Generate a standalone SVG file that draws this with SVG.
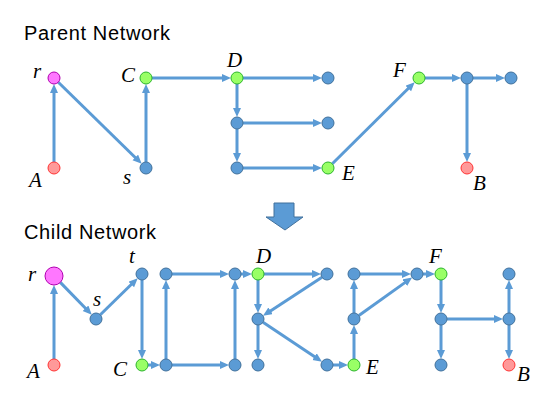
<svg xmlns="http://www.w3.org/2000/svg" width="554" height="407" viewBox="0 0 554 407">
<defs>
<marker id="ah" markerUnits="userSpaceOnUse" markerWidth="10" markerHeight="9" refX="1" refY="4" orient="auto">
<path d="M0,0 L9,4 L0,8 z" fill="#5b9bd5"/>
</marker>
<style>
.e{stroke:#5b9bd5;stroke-width:3;fill:none;marker-end:url(#ah)}
.b{fill:#5b9bd5;stroke:#41719c;stroke-width:1}
.g{fill:#99ff66;stroke:#2cb52c;stroke-width:1}
.rd{fill:#ff9999;stroke:#ff3333;stroke-width:1}
.m{fill:#ff77ff;stroke:#b000b0;stroke-width:1}
.t{font-family:"Liberation Sans",Arial,sans-serif;font-size:20px;fill:#000}
.l{font-family:"Liberation Serif","Times New Roman",serif;font-style:italic;font-size:21px;fill:#000}
</style>
</defs>
<rect width="554" height="407" fill="#fff"/>
<text class="t" x="24" y="40" textLength="146">Parent Network</text>
<text class="t" x="24" y="239" textLength="132">Child Network</text>
<path d="M274,203 H294 V217 H303 L285,230 L266,217 H274 Z" fill="#5b9bd5" stroke="#41719c" stroke-width="1"/>
<g id="edges">
<line class="e" x1="54" y1="162" x2="54" y2="92"/>
<line class="e" x1="58.3" y1="82.2" x2="136" y2="158.2"/>
<line class="e" x1="146" y1="162" x2="146" y2="92"/>
<line class="e" x1="152" y1="78" x2="223" y2="78"/>
<line class="e" x1="243" y1="78" x2="314" y2="78"/>
<line class="e" x1="237" y1="84" x2="237" y2="109"/>
<line class="e" x1="237" y1="129" x2="237" y2="154"/>
<line class="e" x1="243" y1="123" x2="314" y2="123"/>
<line class="e" x1="243" y1="168" x2="314" y2="168"/>
<line class="e" x1="332.3" y1="163.8" x2="409" y2="87.8"/>
<line class="e" x1="425" y1="78" x2="453" y2="78"/>
<line class="e" x1="473" y1="78" x2="497" y2="78"/>
<line class="e" x1="467" y1="84" x2="467" y2="154"/>
<line class="e" x1="54" y1="359" x2="54" y2="293"/>
<line class="e" x1="60.3" y1="282.4" x2="86.2" y2="309"/>
<line class="e" x1="100.3" y1="314.8" x2="132" y2="283.8"/>
<line class="e" x1="142" y1="280" x2="142" y2="351"/>
<line class="e" x1="148" y1="365" x2="152" y2="365"/>
<line class="e" x1="166" y1="359" x2="166" y2="288"/>
<line class="e" x1="172" y1="274" x2="221" y2="274"/>
<line class="e" x1="172" y1="365" x2="221" y2="365"/>
<line class="e" x1="235" y1="359" x2="235" y2="288"/>
<line class="e" x1="241" y1="274" x2="244" y2="274"/>
<line class="e" x1="264" y1="274" x2="313" y2="274"/>
<line class="e" x1="258" y1="280" x2="258" y2="305"/>
<line class="e" x1="322" y1="277.3" x2="269.7" y2="311.4"/>
<line class="e" x1="258" y1="325" x2="258" y2="351"/>
<line class="e" x1="263" y1="322.3" x2="315.4" y2="357.2"/>
<line class="e" x1="333" y1="365" x2="340" y2="365"/>
<line class="e" x1="354" y1="359" x2="354" y2="333"/>
<line class="e" x1="354" y1="313" x2="354" y2="288"/>
<line class="e" x1="360" y1="274" x2="403" y2="274"/>
<line class="e" x1="358.9" y1="315.5" x2="405.6" y2="282.1"/>
<line class="e" x1="423" y1="274" x2="427" y2="274"/>
<line class="e" x1="441" y1="280" x2="441" y2="305"/>
<line class="e" x1="441" y1="325" x2="441" y2="351"/>
<line class="e" x1="447" y1="319" x2="495" y2="319"/>
<line class="e" x1="509" y1="313" x2="509" y2="288"/>
<line class="e" x1="509" y1="325" x2="509" y2="351"/>
</g>
<g id="p-r"><circle class="m" cx="54" cy="78" r="6"/><text class="l" x="33" y="78">r</text></g>
<g id="p-A"><circle class="rd" cx="54" cy="168" r="6"/><text class="l" x="29" y="187">A</text></g>
<g id="p-C"><circle class="g" cx="146" cy="78" r="6"/><text class="l" x="121" y="82">C</text></g>
<g id="p-s"><circle class="b" cx="146" cy="168" r="6"/><text class="l" x="123" y="184">s</text></g>
<g id="p-D"><circle class="g" cx="237" cy="78" r="6"/><text class="l" x="227" y="67">D</text></g>
<g id="p-d1"><circle class="b" cx="237" cy="123" r="6"/></g>
<g id="p-d2"><circle class="b" cx="237" cy="168" r="6"/></g>
<g id="p-t1"><circle class="b" cx="328" cy="78" r="6"/></g>
<g id="p-t2"><circle class="b" cx="328" cy="123" r="6"/></g>
<g id="p-E"><circle class="g" cx="328" cy="168" r="6"/><text class="l" x="342" y="180">E</text></g>
<g id="p-F"><circle class="g" cx="419" cy="78" r="6"/><text class="l" x="393" y="77">F</text></g>
<g id="p-g"><circle class="b" cx="467" cy="78" r="6"/></g>
<g id="p-h"><circle class="b" cx="511" cy="78" r="6"/></g>
<g id="p-B"><circle class="rd" cx="467" cy="168" r="6"/><text class="l" x="473" y="190">B</text></g>
<g id="c-r"><circle class="m" cx="54" cy="276" r="9"/><text class="l" x="28" y="281">r</text></g>
<g id="c-A"><circle class="rd" cx="54" cy="365" r="6"/><text class="l" x="27" y="378">A</text></g>
<g id="c-s"><circle class="b" cx="96" cy="319" r="6"/><text class="l" x="93" y="306">s</text></g>
<g id="c-t"><circle class="b" cx="142" cy="274" r="6"/><text class="l" x="129" y="263">t</text></g>
<g id="c-C"><circle class="g" cx="142" cy="365" r="6"/><text class="l" x="113" y="376">C</text></g>
<g id="c-m1"><circle class="b" cx="166" cy="274" r="6"/></g>
<g id="c-m2"><circle class="b" cx="166" cy="365" r="6"/></g>
<g id="c-o1"><circle class="b" cx="235" cy="274" r="6"/></g>
<g id="c-o2"><circle class="b" cx="235" cy="365" r="6"/></g>
<g id="c-D"><circle class="g" cx="258" cy="274" r="6"/><text class="l" x="256" y="263">D</text></g>
<g id="c-k1"><circle class="b" cx="258" cy="319" r="6"/></g>
<g id="c-k2"><circle class="b" cx="258" cy="365" r="6"/></g>
<g id="c-k3"><circle class="b" cx="327" cy="274" r="6"/></g>
<g id="c-k4"><circle class="b" cx="327" cy="365" r="6"/></g>
<g id="c-r1"><circle class="b" cx="354" cy="274" r="6"/></g>
<g id="c-r2"><circle class="b" cx="354" cy="319" r="6"/></g>
<g id="c-E"><circle class="g" cx="354" cy="365" r="6"/><text class="l" x="366" y="374">E</text></g>
<g id="c-r3"><circle class="b" cx="417" cy="274" r="6"/></g>
<g id="c-F"><circle class="g" cx="441" cy="274" r="6"/><text class="l" x="429" y="263">F</text></g>
<g id="c-h1"><circle class="b" cx="441" cy="319" r="6"/></g>
<g id="c-h2"><circle class="b" cx="441" cy="365" r="6"/></g>
<g id="c-h3"><circle class="b" cx="509" cy="274" r="6"/></g>
<g id="c-h4"><circle class="b" cx="509" cy="319" r="6"/></g>
<g id="c-B"><circle class="rd" cx="509" cy="365" r="6"/><text class="l" x="517" y="381">B</text></g>
</svg>
